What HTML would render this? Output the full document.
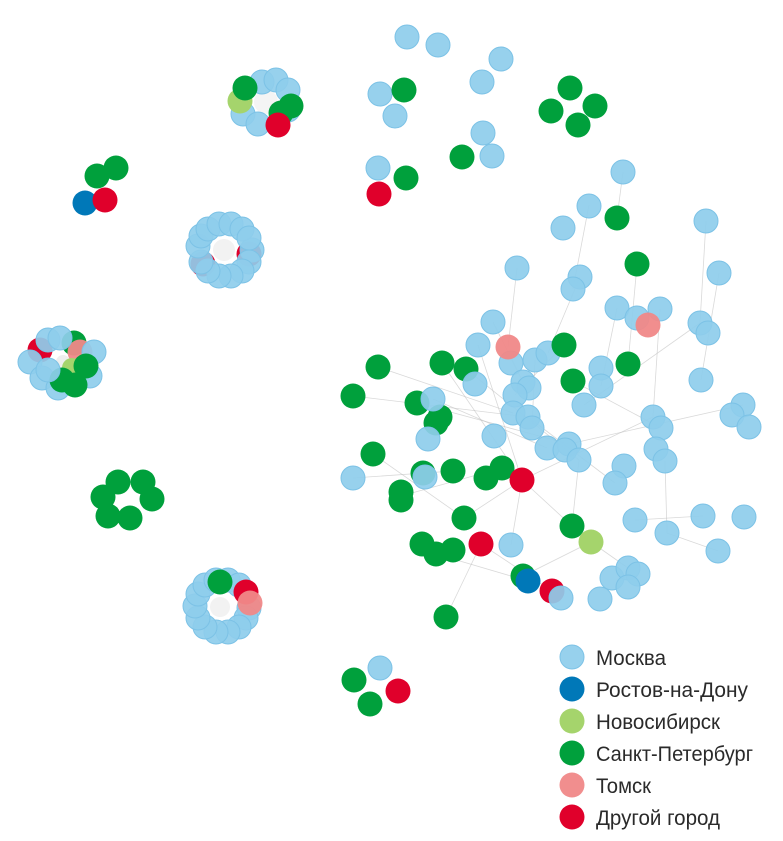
<!DOCTYPE html>
<html><head><meta charset="utf-8"><style>
html,body{margin:0;padding:0;background:#fff;}
svg{display:block}
.b{fill:#8ecdec;stroke:#7cc2e6;stroke-width:1;fill-opacity:.92}
.g{fill:#00a03c}
.r{fill:#e0002b}
.d{fill:#0078b8}
.l{fill:#a5d46c}
.p{fill:#f08888;fill-opacity:.95}
.e line{stroke:#bbb;stroke-width:.8;opacity:.55}
text{font-family:"Liberation Sans",sans-serif;font-size:21px;fill:#2a2a2a}
</style></head><body>
<svg width="783" height="841" viewBox="0 0 783 841" xmlns="http://www.w3.org/2000/svg">
<g class="e">
<line x1="517" y1="268" x2="508" y2="347"/><line x1="580" y1="277" x2="548" y2="353"/><line x1="637" y1="265" x2="628" y2="364"/>
<line x1="719" y1="273" x2="701" y2="380"/><line x1="617" y1="308" x2="601" y2="386"/><line x1="660" y1="309" x2="653" y2="417"/>
<line x1="478" y1="345" x2="522" y2="480"/><line x1="442" y1="363" x2="522" y2="480"/><line x1="466" y1="369" x2="579" y2="460"/>
<line x1="378" y1="367" x2="513" y2="413"/><line x1="353" y1="396" x2="528" y2="417"/><line x1="417" y1="403" x2="569" y2="444"/>
<line x1="433" y1="399" x2="547" y2="448"/><line x1="522" y1="480" x2="572" y2="526"/><line x1="522" y1="480" x2="653" y2="417"/>
<line x1="569" y1="444" x2="743" y2="405"/><line x1="584" y1="405" x2="700" y2="323"/><line x1="573" y1="381" x2="661" y2="428"/>
<line x1="373" y1="454" x2="464" y2="518"/><line x1="353" y1="478" x2="453" y2="471"/><line x1="401" y1="496" x2="502" y2="468"/>
<line x1="464" y1="518" x2="522" y2="480"/><line x1="436" y1="554" x2="528" y2="581"/><line x1="481" y1="544" x2="552" y2="591"/>
<line x1="591" y1="542" x2="628" y2="568"/><line x1="591" y1="542" x2="523" y2="576"/><line x1="667" y1="533" x2="718" y2="551"/>
<line x1="635" y1="520" x2="703" y2="516"/><line x1="665" y1="461" x2="667" y2="533"/><line x1="446" y1="617" x2="481" y2="544"/>
<line x1="572" y1="526" x2="579" y2="460"/><line x1="615" y1="483" x2="528" y2="417"/><line x1="511" y1="545" x2="522" y2="480"/>
<line x1="589" y1="205" x2="573" y2="289"/><line x1="623" y1="172" x2="617" y2="218"/><line x1="706" y1="221" x2="700" y2="323"/>
<line x1="493" y1="322" x2="523" y2="382"/><line x1="535" y1="360" x2="532" y2="428"/><line x1="564" y1="345" x2="515" y2="395"/>
</g>
<!-- top scattered -->
<circle class="b" cx="407" cy="37" r="12"/><circle class="b" cx="438" cy="45" r="12"/>
<circle class="b" cx="501" cy="59" r="12"/><circle class="b" cx="482" cy="82" r="12"/>
<circle class="b" cx="380" cy="94" r="12"/><circle class="b" cx="395" cy="116" r="12"/><circle class="g" cx="404" cy="90" r="12.5"/>
<circle class="b" cx="483" cy="133" r="12"/><circle class="b" cx="492" cy="156" r="12"/><circle class="g" cx="462" cy="157" r="12.5"/>
<circle class="b" cx="378" cy="168" r="12"/><circle class="g" cx="406" cy="178" r="12.5"/><circle class="r" cx="379" cy="194" r="12.5"/>
<circle class="g" cx="570" cy="88" r="12.5"/><circle class="g" cx="595" cy="106" r="12.5"/><circle class="g" cx="551" cy="111" r="12.5"/><circle class="g" cx="578" cy="125" r="12.5"/>
<!-- left small -->
<circle class="g" cx="97" cy="176" r="12.5"/><circle class="g" cx="116" cy="168" r="12.5"/><circle class="d" cx="85" cy="203" r="12.5"/><circle class="r" cx="105" cy="200" r="12.5"/>
<circle class="g" cx="118" cy="482" r="12.5"/><circle class="g" cx="143" cy="482" r="12.5"/><circle class="g" cx="103" cy="497" r="12.5"/><circle class="g" cx="152" cy="499" r="12.5"/><circle class="g" cx="108" cy="516" r="12.5"/><circle class="g" cx="130" cy="518" r="12.5"/>
<circle class="b" cx="380" cy="668" r="12"/><circle class="g" cx="354" cy="680" r="12.5"/><circle class="g" cx="370" cy="704" r="12.5"/><circle class="r" cx="398" cy="691" r="12.5"/>
<!-- cluster A -->
<circle cx="266" cy="102" r="12" fill="#f4f4f4"/>
<circle class="b" cx="262" cy="82" r="12"/><circle class="b" cx="276" cy="80" r="12"/><circle class="b" cx="288" cy="90" r="12"/>
<circle class="b" cx="243" cy="114" r="12"/><circle class="b" cx="258" cy="124" r="12"/><circle class="b" cx="288" cy="110" r="12"/>
<circle class="l" cx="240" cy="101" r="12.5"/><circle class="g" cx="245" cy="88" r="12.5"/><circle class="g" cx="291" cy="106" r="12.5"/><circle class="g" cx="281" cy="113" r="12.5"/><circle class="r" cx="278" cy="125" r="12.5"/>
<!-- cluster B -->
<circle class="r" cx="203" cy="264" r="12.5"/><circle class="r" cx="249" cy="254" r="12.5"/>
<circle class="b" cx="252" cy="250" r="12"/><circle class="b" cx="249" cy="262" r="12"/><circle class="b" cx="242" cy="271" r="12"/><circle class="b" cx="231" cy="276" r="12"/><circle class="b" cx="219" cy="276" r="12"/><circle class="b" cx="208" cy="271" r="12"/><circle class="b" cx="201" cy="262" r="12"/><circle class="b" cx="198" cy="246" r="12"/><circle class="b" cx="201" cy="236" r="12"/><circle class="b" cx="208" cy="229" r="12"/><circle class="b" cx="219" cy="224" r="12"/><circle class="b" cx="231" cy="224" r="12"/><circle class="b" cx="242" cy="229" r="12"/><circle class="b" cx="249" cy="238" r="12"/>
<circle cx="224" cy="250" r="11" fill="#f2f2f2"/>
<!-- cluster C -->
<circle class="r" cx="40" cy="350" r="12.5"/><circle class="g" cx="74" cy="343" r="12.5"/><circle class="p" cx="80" cy="352" r="12.5"/>
<circle class="b" cx="48" cy="340" r="12"/><circle class="b" cx="60" cy="338" r="12"/><circle class="b" cx="30" cy="362" r="12"/><circle class="b" cx="42" cy="378" r="12"/><circle class="b" cx="58" cy="388" r="12"/><circle class="b" cx="90" cy="376" r="12"/><circle class="b" cx="94" cy="352" r="12"/>
<circle cx="63" cy="362" r="7" fill="#eee"/><circle class="l" cx="72" cy="368" r="10"/>
<circle class="g" cx="86" cy="366" r="12.5"/><circle class="g" cx="75" cy="385" r="12.5"/><circle class="g" cx="62" cy="380" r="12.5"/><circle class="b" cx="48" cy="370" r="12"/>
<!-- cluster D -->
<circle class="b" cx="249" cy="608" r="12"/><circle class="b" cx="246" cy="618" r="12"/><circle class="b" cx="239" cy="627" r="12"/><circle class="b" cx="228" cy="632" r="12"/><circle class="b" cx="216" cy="632" r="12"/><circle class="b" cx="205" cy="627" r="12"/><circle class="b" cx="198" cy="618" r="12"/><circle class="b" cx="195" cy="606" r="12"/><circle class="b" cx="198" cy="594" r="12"/><circle class="b" cx="205" cy="585" r="12"/><circle class="b" cx="216" cy="580" r="12"/><circle class="b" cx="228" cy="580" r="12"/><circle class="b" cx="239" cy="585" r="12"/>
<circle class="r" cx="246" cy="592" r="12.5"/><circle class="p" cx="250" cy="603" r="12.5"/><circle class="g" cx="220" cy="582" r="12.5"/>
<circle cx="220" cy="607" r="10" fill="#f2f2f2"/>
<!-- right cluster -->
<circle class="b" cx="623" cy="172" r="12"/><circle class="b" cx="589" cy="206" r="12"/><circle class="b" cx="563" cy="228" r="12"/><circle class="g" cx="617" cy="218" r="12.5"/><circle class="b" cx="706" cy="221" r="12"/>
<circle class="b" cx="517" cy="268" r="12"/><circle class="b" cx="580" cy="277" r="12"/><circle class="b" cx="573" cy="289" r="12"/><circle class="g" cx="637" cy="264" r="12.5"/><circle class="b" cx="719" cy="273" r="12"/>
<circle class="b" cx="617" cy="308" r="12"/><circle class="b" cx="637" cy="318" r="12"/><circle class="b" cx="660" cy="309" r="12"/><circle class="p" cx="648" cy="325" r="12.5"/>
<circle class="b" cx="700" cy="323" r="12"/><circle class="b" cx="708" cy="333" r="12"/><circle class="b" cx="493" cy="322" r="12"/><circle class="b" cx="478" cy="345" r="12"/>
<circle class="b" cx="511" cy="363" r="12"/><circle class="p" cx="508" cy="347" r="12.5"/><circle class="b" cx="535" cy="360" r="12"/><circle class="b" cx="548" cy="353" r="12"/><circle class="g" cx="564" cy="345" r="12.5"/>
<circle class="g" cx="378" cy="367" r="12.5"/><circle class="g" cx="442" cy="363" r="12.5"/><circle class="g" cx="466" cy="369" r="12.5"/><circle class="b" cx="475" cy="384" r="12"/>
<circle class="b" cx="523" cy="382" r="12"/><circle class="b" cx="529" cy="388" r="12"/><circle class="b" cx="515" cy="395" r="12"/><circle class="g" cx="573" cy="381" r="12.5"/>
<circle class="b" cx="601" cy="368" r="12"/><circle class="b" cx="601" cy="386" r="12"/><circle class="g" cx="628" cy="364" r="12.5"/><circle class="b" cx="701" cy="380" r="12"/>
<circle class="g" cx="353" cy="396" r="12.5"/><circle class="g" cx="417" cy="403" r="12.5"/><circle class="g" cx="440" cy="417" r="12.5"/><circle class="g" cx="436" cy="423" r="12.5"/><circle class="b" cx="433" cy="399" r="12"/>
<circle class="b" cx="584" cy="405" r="12"/><circle class="b" cx="653" cy="417" r="12"/><circle class="b" cx="661" cy="428" r="12"/>
<circle class="b" cx="743" cy="405" r="12"/><circle class="b" cx="732" cy="415" r="12"/><circle class="b" cx="749" cy="427" r="12"/>
<circle class="b" cx="513" cy="413" r="12"/><circle class="b" cx="528" cy="417" r="12"/><circle class="b" cx="532" cy="428" r="12"/><circle class="b" cx="494" cy="436" r="12"/><circle class="b" cx="428" cy="439" r="12"/>
<circle class="b" cx="547" cy="448" r="12"/><circle class="b" cx="569" cy="444" r="12"/><circle class="b" cx="565" cy="450" r="12"/><circle class="b" cx="579" cy="460" r="12"/>
<circle class="g" cx="373" cy="454" r="12.5"/><circle class="b" cx="353" cy="478" r="12"/>
<circle class="g" cx="423" cy="473" r="12.5"/><circle class="b" cx="425" cy="477" r="12"/><circle class="g" cx="453" cy="471" r="12.5"/>
<circle class="g" cx="401" cy="492" r="12.5"/><circle class="g" cx="401" cy="500" r="12.5"/><circle class="g" cx="486" cy="478" r="12.5"/><circle class="g" cx="502" cy="468" r="12.5"/>
<circle class="r" cx="522" cy="480" r="12.5"/>
<circle class="b" cx="624" cy="466" r="12"/><circle class="b" cx="615" cy="483" r="12"/><circle class="b" cx="656" cy="449" r="12"/><circle class="b" cx="665" cy="461" r="12"/>
<circle class="g" cx="464" cy="518" r="12.5"/><circle class="g" cx="572" cy="526" r="12.5"/><circle class="l" cx="591" cy="542" r="12.5"/>
<circle class="b" cx="635" cy="520" r="12"/><circle class="b" cx="667" cy="533" r="12"/><circle class="b" cx="703" cy="516" r="12"/><circle class="b" cx="744" cy="517" r="12"/><circle class="b" cx="718" cy="551" r="12"/>
<circle class="g" cx="422" cy="544" r="12.5"/><circle class="g" cx="436" cy="554" r="12.5"/><circle class="g" cx="453" cy="550" r="12.5"/><circle class="r" cx="481" cy="544" r="12.5"/><circle class="b" cx="511" cy="545" r="12"/>
<circle class="g" cx="523" cy="576" r="12.5"/><circle class="d" cx="528" cy="581" r="12.5"/>
<circle class="r" cx="552" cy="591" r="12.5"/><circle class="b" cx="561" cy="598" r="12"/>
<circle class="b" cx="612" cy="578" r="12"/><circle class="b" cx="628" cy="568" r="12"/><circle class="b" cx="638" cy="574" r="12"/><circle class="b" cx="628" cy="587" r="12"/><circle class="b" cx="600" cy="599" r="12"/>
<circle class="g" cx="446" cy="617" r="12.5"/>
<!-- legend -->
<circle class="b" cx="572" cy="657" r="12"/><text x="596" y="665" textLength="70" lengthAdjust="spacingAndGlyphs">Москва</text>
<circle class="d" cx="572" cy="689" r="12.5"/><text x="596" y="697" textLength="152" lengthAdjust="spacingAndGlyphs">Ростов-на-Дону</text>
<circle class="l" cx="572" cy="721" r="12.5"/><text x="596" y="729" textLength="124" lengthAdjust="spacingAndGlyphs">Новосибирск</text>
<circle class="g" cx="572" cy="753" r="12.5"/><text x="596" y="761" textLength="157" lengthAdjust="spacingAndGlyphs">Санкт-Петербург</text>
<circle class="p" cx="572" cy="785" r="12.5"/><text x="596" y="793" textLength="55" lengthAdjust="spacingAndGlyphs">Томск</text>
<circle class="r" cx="572" cy="817" r="12.5"/><text x="596" y="825" textLength="124" lengthAdjust="spacingAndGlyphs">Другой город</text>
</svg>
</body></html>
